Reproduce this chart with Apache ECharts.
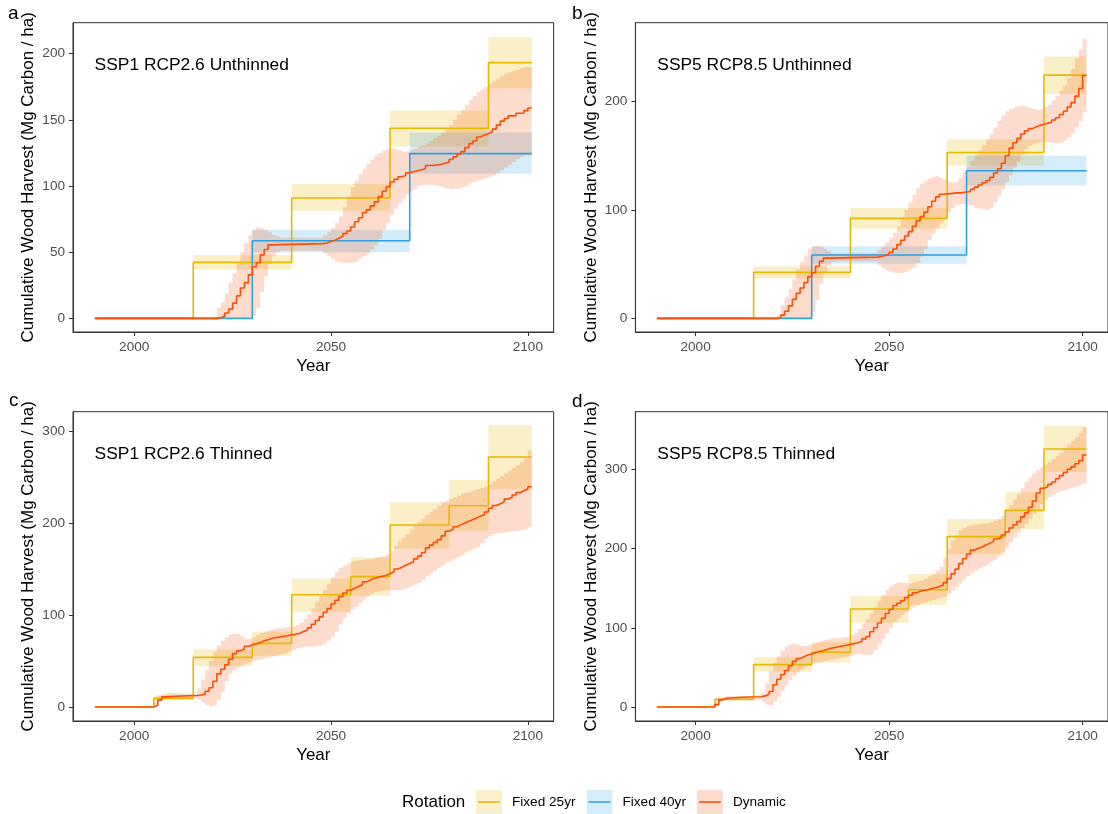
<!DOCTYPE html>
<html><head><meta charset="utf-8">
<script src="https://cdn.jsdelivr.net/npm/echarts@6/dist/echarts.min.js"></script>
<style>html,body{margin:0;padding:0;background:#fff}#chart{width:1108px;height:814px}</style>
</head><body><div id="chart"></div><script>
// ---------------- DATA ----------------
const seriesNames = ['Fixed 25yr', 'Fixed 40yr', 'Dynamic'];
const panelLabels = ['a', 'b', 'c', 'd'];
const panelTitles = ['SSP1 RCP2.6 Unthinned', 'SSP5 RCP8.5 Unthinned', 'SSP1 RCP2.6 Thinned', 'SSP5 RCP8.5 Thinned'];
const xTicks = [2000, 2050, 2100];
const yTicks_a = [0, 50, 100, 150, 200];
const yTicks_b = [0, 100, 200];
const yTicks_c = [0, 100, 200, 300];
const yTicks_d = [0, 100, 200, 300];

// Fixed 25yr step lines [year, value]
const fixed25_a = [[1990,0],[2015,42.3],[2040,91],[2065,143.6],[2090,193.2],[2101,193.2]];
const fixed25_b = [[1990,0],[2015,42.4],[2040,92.2],[2065,153],[2090,224.3],[2101,224.3]];
const fixed25_c = [[1990,0],[2005,9.4],[2015,54],[2030,69.2],[2040,122.1],[2055,141.7],[2065,197.8],[2080,218.8],[2090,271.7],[2101,271.7]];
const fixed25_d = [[1990,0],[2005,9.7],[2015,53.4],[2030,69],[2040,123.7],[2055,148],[2065,215],[2080,248.2],[2090,325.6],[2101,325.6]];
// Fixed 25yr bands [from, to, low, high]
const band25_a = [[2015,2040,37.2,47.8],[2040,2065,81.3,101.6],[2065,2090,129.8,157],[2090,2101,173.6,212.6]];
const band25_b = [[2015,2040,36.9,47.9],[2040,2065,82.6,101.7],[2065,2090,141,165.3],[2090,2101,207,241.5]];
const band25_c = [[2005,2015,7.6,13],[2015,2030,44.6,62.7],[2030,2040,55.8,81.9],[2040,2055,103.6,139.5],[2055,2065,121,162.7],[2065,2080,172.1,222.5],[2080,2090,191.7,246.7],[2090,2101,237,306.5]];
const band25_d = [[2005,2015,7.6,10.9],[2015,2030,44.6,62.7],[2030,2040,56,81.6],[2040,2055,106.4,140],[2055,2065,128.7,167.9],[2065,2080,192.7,237.3],[2080,2090,224.2,271],[2090,2101,296.6,355]];
// Fixed 40yr (unthinned panels only)
const fixed40_a = [[1990,0],[2030,58.6],[2070,124.5],[2101,124.5]];
const fixed40_b = [[1990,0],[2030,58.4],[2070,136.1],[2101,136.1]];
const band40_a = [[2030,2070,50,66.9],[2070,2101,109.2,140.4]];
const band40_b = [[2030,2070,50.4,66.4],[2070,2101,122.6,149.9]];

// Dynamic step lines [year, value]
const dynamic_a = [[1990,0],[2021,0.5],[2022,1.5],[2023,4],[2024,7],[2025,11.5],[2026,17],[2027,23],[2028,27],[2029,33],[2030,39],[2031,42],[2032,48],[2033,52],[2034,55.5],[2035,56.5],[2048,57],[2049,58],[2050,59],[2051,60.5],[2052,62],[2053,64],[2054,66],[2055,69],[2056,73],[2057,76],[2058,80],[2059,82],[2060,85],[2061,88],[2062,92],[2063,96],[2064,99.5],[2065,103],[2066,105],[2067,107],[2068,108],[2069,110],[2070,111.5],[2072,113],[2074,115.5],[2076,116.5],[2078,118],[2080,120],[2081,122],[2082,124],[2083,126],[2084,129],[2085,132],[2086,134],[2087,137],[2088,138.5],[2089,139.5],[2090,141],[2091,143],[2092,146],[2093,149],[2094,151],[2095,153],[2097,155],[2099,157],[2100,159],[2101,159]];
const dynamic_b = [[1990,0],[2021,0.5],[2022,3],[2023,6.5],[2024,11.5],[2025,17.5],[2026,23],[2027,28],[2028,33],[2029,38.5],[2030,42],[2031,48],[2032,52.5],[2033,55.5],[2034,56.5],[2047,57],[2048,58],[2049,59],[2050,61],[2051,64],[2052,68],[2053,72],[2054,76],[2055,80],[2056,85],[2057,90],[2058,94],[2059,98],[2060,103],[2061,108],[2062,112],[2063,114.5],[2064,115.5],[2067,116],[2069,117],[2071,119],[2072,121],[2073,123],[2074,125],[2075,127],[2076,130],[2077,134],[2078,138],[2079,143],[2080,150],[2081,157],[2082,162],[2083,166],[2084,170],[2085,173],[2086,175],[2087,176.5],[2088,178],[2089,179],[2090,180],[2091,181],[2092,183],[2093,185],[2094,188],[2095,191],[2096,195],[2097,199],[2098,205],[2099,212],[2100,224],[2101,224]];
const dynamic_c = [[1990,0],[2005,2],[2006,7.5],[2007,11],[2008,12],[2012,12.5],[2016,13],[2017,14],[2018,17],[2019,21],[2020,28],[2021,36],[2022,41],[2023,46],[2024,52],[2025,58],[2026,61],[2027,63],[2028,66],[2029,67.5],[2030,68.5],[2031,70],[2032,72],[2033,73],[2034,74.5],[2035,75.5],[2036,76],[2037,77],[2038,77.5],[2039,78.5],[2040,79],[2041,80],[2042,82],[2043,83.5],[2044,86],[2045,90],[2046,94],[2047,98],[2048,103],[2049,107],[2050,112],[2051,116],[2052,120],[2053,124],[2054,127],[2055,129],[2056,131],[2057,133],[2058,136],[2059,138],[2060,140],[2061,141],[2062,142],[2063,143],[2064,145],[2065,147],[2066,150],[2067,152],[2068,154],[2069,156],[2070,158],[2071,161],[2072,164],[2073,168],[2074,173],[2075,176],[2076,179],[2077,182],[2078,186],[2079,191],[2080,193],[2081,196],[2082,198],[2083,200],[2084,202],[2085,203.5],[2086,205.5],[2087,207.5],[2088,209],[2089,212],[2090,216],[2091,219],[2092,221],[2093,223],[2094,226],[2095,228],[2096,230.5],[2097,233],[2098,235],[2099,237],[2100,239.5],[2101,239.5]];
const dynamic_d = [[1990,0],[2005,3],[2006,9],[2007,11],[2008,12],[2011,12.5],[2014,13],[2017,14],[2018,16],[2019,19.5],[2020,28],[2021,35],[2022,41],[2023,46],[2024,52],[2025,57.5],[2026,61],[2027,63.5],[2028,65.5],[2029,67],[2030,68.5],[2031,70],[2032,71],[2033,72.5],[2034,74],[2035,75],[2036,76],[2037,77],[2038,78],[2039,79],[2040,80],[2041,81],[2042,83],[2043,86],[2044,89],[2045,95],[2046,100],[2047,106],[2048,112],[2049,118],[2050,123],[2051,128],[2052,131],[2053,134],[2054,138],[2055,141],[2056,144],[2057,146],[2058,147],[2059,148],[2060,149.5],[2061,150.5],[2062,152],[2063,154],[2064,157],[2065,162],[2066,168],[2067,174],[2068,181],[2069,187],[2070,193],[2071,198],[2072,200],[2073,202],[2074,204.5],[2075,206.5],[2076,209],[2077,212],[2078,214],[2079,217],[2080,221],[2081,226],[2082,230],[2083,234],[2084,240],[2085,245],[2086,252],[2087,260],[2088,270],[2089,276],[2090,278],[2091,281],[2092,284],[2093,288],[2094,292],[2095,296],[2096,300],[2097,303],[2098,307],[2099,311],[2100,318],[2101,318]];

// Dynamic uncertainty bands [year, low, high]
const dynBand_a = [[2021,0,8],[2022,0,12],[2023,0,19],[2024,0,27],[2025,0,34],[2026,0,42],[2027,0,50],[2028,0,57],[2029,0,63],[2030,2,67],[2031,8,69],[2032,20,68],[2033,32,67],[2034,41,65],[2035,47,63],[2036,50,62],[2037,51,61],[2048,49,63],[2049,47,65],[2050,45,68],[2051,43,72],[2052,42,77],[2053,42,84],[2054,42,92],[2055,42,99],[2056,43,104],[2057,45,109],[2058,47,113],[2059,49,117],[2060,52,120],[2061,55,123],[2062,60,125],[2063,67,127],[2064,72,128],[2065,78,128.5],[2066,83,128],[2067,87,127],[2068,90,126],[2069,94,126],[2070,96,127],[2071,98,128],[2072,100,130],[2073,100.5,131],[2074,101,132],[2075,101,134],[2076,100.5,136],[2077,100,138],[2078,99,140],[2079,98,143],[2080,97.5,146],[2081,98,150],[2082,98,154],[2083,99,157],[2084,100,161],[2085,102,165],[2086,103,168],[2087,104,171],[2088,105,173],[2089,106,175],[2090,107,177],[2091,108,179],[2092,110,181],[2093,112,183],[2094,114,185],[2095,116,186],[2096,118,187],[2097,120,188],[2098,122,189],[2099,123,190],[2101,123.5,190]];
const dynBand_b = [[2021,0,3],[2022,0,12],[2023,0,20],[2024,0,27],[2025,0,36],[2026,0,45],[2027,0,52],[2028,0,58],[2029,0,64],[2030,6,66],[2031,17,67],[2032,32,66],[2033,43,64],[2034,49,62],[2035,52,60],[2036,52.5,60],[2047,49,63],[2048,46,66],[2049,44,70],[2050,42.5,74],[2051,42,79],[2052,41.8,85],[2053,42,93],[2054,43,100],[2055,45,107],[2056,47,114],[2057,51,120],[2058,57,124],[2059,64,127],[2060,72,129],[2061,78,130.5],[2062,83,131],[2063,88,130],[2064,93,128],[2065,98,126],[2066,101.5,125],[2067,104,126],[2068,105,130],[2069,105.5,135],[2070,105,140],[2071,104,145],[2072,102,150],[2073,101,155],[2074,100.5,160],[2075,100,165],[2076,102,170],[2077,107,176],[2078,113,182],[2079,119,187],[2080,126,191],[2081,132,193],[2082,139,194.5],[2083,145,195.5],[2084,151,196],[2085,156,195.5],[2086,159,194],[2087,161,193],[2088,162,192.5],[2089,163,193],[2090,163,195],[2091,162.5,197],[2092,162,201],[2093,161.5,205],[2094,162,210],[2095,164,215],[2096,167,222],[2097,171,230],[2098,176,240],[2099,182,248],[2100,190,258],[2101,192,260]];
const dynBand_c = [[2005,1,5],[2006,6,12],[2007,9,14],[2008,10,15],[2016,8,20],[2017,5,30],[2018,2,40],[2019,0.5,50],[2020,2,60],[2021,8,67],[2022,16,72],[2023,28,76],[2024,36,79],[2025,40,80],[2026,43,79.5],[2027,45,77],[2028,47,74],[2029,48.5,74.5],[2030,50,76],[2031,51,78],[2032,52,80.5],[2033,53,82],[2034,54,83.5],[2035,55,84.5],[2036,56,85.5],[2037,57,86],[2038,58,86.5],[2039,60,87],[2040,62,87.5],[2041,63.5,89],[2042,64.5,92],[2043,65.5,96],[2044,66,101],[2045,66,107],[2046,66.5,114],[2047,67,121],[2048,69,127],[2049,72,134],[2050,76,141],[2051,82,147],[2052,90,151],[2053,97,154],[2054,102,156],[2055,106,158],[2056,109,159],[2057,113,159.5],[2058,117,160],[2059,120,160.5],[2060,123,161],[2061,125,162],[2062,126,163],[2063,127,164],[2064,127,166],[2065,127,170],[2066,127,175],[2067,127,180],[2068,128,184],[2069,129,188],[2070,131,193],[2071,133,197],[2072,135,201],[2073,138,205],[2074,142,209],[2075,145,212],[2076,148,215],[2077,151,219],[2078,154,222],[2079,157,224],[2080,159,226],[2081,161,228],[2082,163,230],[2083,165,232],[2084,168,233],[2085,170,234],[2086,172,235.5],[2087,174,237],[2088,178,238],[2089,183,239.5],[2090,186,242],[2091,188,245],[2092,189,248],[2093,189.5,251],[2094,190,254],[2095,190.5,257],[2096,191,260],[2097,191.5,263],[2098,192,266],[2099,193,270],[2100,196,279],[2101,198,281]];
const dynBand_d = [[2005,1,5],[2006,6,11],[2007,8.5,13],[2008,9.5,14],[2016,9,15],[2017,6,18],[2018,3,30],[2019,2.5,45],[2020,7,56],[2021,13,64],[2022,20,71],[2023,27,76],[2024,34,79],[2025,39,80],[2026,43.5,79],[2027,47,77],[2028,50,77],[2029,52.5,78.5],[2030,54,79.5],[2031,55.5,81],[2032,57,83],[2033,58,84.5],[2034,59,85.5],[2035,60,86.5],[2036,61,87],[2037,62,87.5],[2038,63,88],[2039,64,89],[2040,65.5,91],[2041,67,94],[2042,67.5,99],[2043,66,105],[2044,65.5,111],[2045,67,118],[2046,72,126],[2047,79,133],[2048,86,141],[2049,93,148],[2050,100,152],[2051,107,155],[2052,112,157],[2053,116,157],[2054,120,156.5],[2055,123,156],[2056,126,157],[2057,128.5,158.5],[2058,130.5,160],[2059,132,162],[2060,133.5,165],[2061,135,168],[2062,136.5,172],[2063,138,177],[2064,139.5,188],[2065,143,200],[2066,147,210],[2067,151,217],[2068,156,223],[2069,161,226],[2070,165,228],[2071,169,229.5],[2072,172,230],[2073,175,231],[2074,177.5,231.5],[2075,179.5,232],[2076,183,233],[2077,186,235],[2078,191,237],[2079,196,242],[2080,201,248],[2081,208,255],[2082,214,262],[2083,220,269],[2084,226,276],[2085,231,284],[2086,237,290],[2087,244,295],[2088,250,299],[2089,256,302],[2090,261,306],[2091,265,309],[2092,268,313],[2093,270.5,317],[2094,272.5,321],[2095,274,326],[2096,275.5,331],[2097,277,336],[2098,278.5,341],[2099,280,346],[2100,282,353],[2101,282.5,355]];

// ---------------- STYLE / LAYOUT ----------------
const FONT = '"Liberation Sans", Arial, Helvetica, sans-serif';
const COL25 = '#E7B800', COL40 = '#2E9FDF', COLDYN = '#FC4E07';
const FILL25 = 'rgba(231,184,0,0.22)', FILL40 = 'rgba(46,159,223,0.2)', FILLDYN = 'rgba(252,78,7,0.2)';
const X_MIN = 1984.45, X_MAX = 2106.55;

const panels = [
  {grid:{left:73, top:22.7, width:480.6, height:309.3}, ymin:-10.3, ymax:223.4, yTicks:yTicks_a, f25:fixed25_a, b25:band25_a, f40:fixed40_a, b40:band40_a, dyn:dynamic_a, db:dynBand_a},
  {grid:{left:635.4, top:22.7, width:481.7, height:309.3}, ymin:-12.6, ymax:272.7, yTicks:yTicks_b, f25:fixed25_b, b25:band25_b, f40:fixed40_b, b40:band40_b, dyn:dynamic_b, db:dynBand_b},
  {grid:{left:73, top:411.7, width:480.6, height:309.3}, ymin:-15.2, ymax:321, yTicks:yTicks_c, f25:fixed25_c, b25:band25_c, f40:null, b40:null, dyn:dynamic_c, db:dynBand_c},
  {grid:{left:635.4, top:411.7, width:481.7, height:309.3}, ymin:-17.7, ymax:372.7, yTicks:yTicks_d, f25:fixed25_d, b25:band25_d, f40:null, b40:null, dyn:dynamic_d, db:dynBand_d}
];

function rectBandSeries(name, data, fill, gi) {
  return {
    type: 'custom', name: name, xAxisIndex: gi, yAxisIndex: gi, silent: true, clip: true, z: 2,
    data: data, encode: {x: [0, 1], y: [2, 3]},
    renderItem: function (params, api) {
      const p0 = api.coord([api.value(0), api.value(3)]);
      const p1 = api.coord([api.value(1), api.value(2)]);
      return {type: 'rect', shape: {x: p0[0], y: p0[1], width: p1[0] - p0[0], height: p1[1] - p0[1]}, style: {fill: fill}};
    }
  };
}
function stepBandSeries(name, band, fill, gi) {
  return {
    type: 'custom', name: name, xAxisIndex: gi, yAxisIndex: gi, silent: true, clip: true, z: 2,
    data: band, encode: {x: 0, y: [1, 2]},
    renderItem: function (params, api) {
      if (params.dataIndex !== 0) return null;
      const pts = [];
      const n = band.length;
      for (let i = 0; i < n; i++) {
        const x0 = band[i][0], x1 = i + 1 < n ? band[i + 1][0] : band[i][0];
        pts.push(api.coord([x0, band[i][2]]));
        pts.push(api.coord([x1, band[i][2]]));
      }
      for (let i = n - 1; i >= 0; i--) {
        const x0 = band[i][0], x1 = i + 1 < n ? band[i + 1][0] : band[i][0];
        pts.push(api.coord([x1, band[i][1]]));
        pts.push(api.coord([x0, band[i][1]]));
      }
      return {type: 'polygon', shape: {points: pts}, style: {fill: fill}};
    }
  };
}
function stepLine(name, data, color, gi) {
  return {
    type: 'line', name: name, xAxisIndex: gi, yAxisIndex: gi, data: data, step: 'end',
    showSymbol: false, symbol: 'none', silent: true, clip: true, z: 3,
    lineStyle: {color: color, width: 1.6}, itemStyle: {color: color}
  };
}
function plainLabel(v) { return String(v); }

const grids = [], xAxes = [], yAxes = [], series = [];
panels.forEach(function (p, gi) {
  grids.push(Object.assign({show: true, borderColor: '#333333', borderWidth: 1, backgroundColor: '#fff'}, p.grid));
  xAxes.push({
    type: 'value', gridIndex: gi, min: X_MIN, max: X_MAX, position: 'bottom',
    axisLine: {show: true, onZero: false, lineStyle: {color: '#333333', width: 1}}, splitLine: {show: false},
    axisTick: {show: true, inside: false, length: 4, customValues: xTicks, lineStyle: {color: '#333333', width: 1}},
    axisLabel: {customValues: xTicks, formatter: plainLabel, color: '#4D4D4D', fontSize: 13.6, margin: 8, fontFamily: FONT},
    name: 'Year', nameLocation: 'middle', nameGap: 26,
    nameTextStyle: {color: '#000', fontSize: 17, fontFamily: FONT}
  });
  yAxes.push({
    type: 'value', gridIndex: gi, min: p.ymin, max: p.ymax, position: 'left',
    axisLine: {show: true, onZero: false, lineStyle: {color: '#333333', width: 1}}, splitLine: {show: false},
    axisTick: {show: true, inside: false, length: 4, customValues: p.yTicks, lineStyle: {color: '#333333', width: 1}},
    axisLabel: {customValues: p.yTicks, formatter: plainLabel, color: '#4D4D4D', fontSize: 13.6, margin: 8, fontFamily: FONT},
    name: 'Cumulative Wood Harvest (Mg Carbon / ha)', nameLocation: 'middle', nameGap: 36, nameRotate: 90,
    nameTextStyle: {color: '#000', fontSize: 17, fontFamily: FONT}
  });
  series.push(rectBandSeries('Fixed 25yr band', p.b25, FILL25, gi));
  if (p.b40) series.push(rectBandSeries('Fixed 40yr band', p.b40, FILL40, gi));
  series.push(stepBandSeries('Dynamic band', p.db, FILLDYN, gi));
  series.push(stepLine(seriesNames[0], p.f25, COL25, gi));
  if (p.f40) series.push(stepLine(seriesNames[1], p.f40, COL40, gi));
  series.push(stepLine(seriesNames[2], p.dyn, COLDYN, gi));
});

function keyIcon(fill, stroke) {
  const svg = "<svg xmlns='http://www.w3.org/2000/svg' width='31' height='24' viewBox='0 0 31 24' preserveAspectRatio='none'>" +
    "<rect x='0' y='0' width='26' height='24' fill='" + fill + "'/>" +
    "<line x1='2' y1='12' x2='24' y2='12' stroke='" + stroke + "' stroke-width='1.6'/></svg>";
  return 'image://data:image/svg+xml;charset=utf-8,' + encodeURIComponent(svg);
}

const labelPos = [[8, 14], [572, 14], [9, 401], [572, 402]];
const titlePos = [[94.6, 65], [657.3, 65], [94.6, 454], [657.3, 454]];
const graphics = [];
panelLabels.forEach(function (t, i) {
  graphics.push({type: 'text', x: labelPos[i][0], y: labelPos[i][1], z: 100,
    style: {text: t, fontSize: 19, fontFamily: FONT, fill: '#000', align: 'left', verticalAlign: 'middle'}});
});
panelTitles.forEach(function (t, i) {
  graphics.push({type: 'text', x: titlePos[i][0], y: titlePos[i][1], z: 100,
    style: {text: t, fontSize: 17.4, fontFamily: FONT, fill: '#000', align: 'left', verticalAlign: 'middle'}});
});
graphics.push({type: 'text', x: 402, y: 802, z: 100,
  style: {text: 'Rotation', fontSize: 17, fontFamily: FONT, fill: '#000', align: 'left', verticalAlign: 'middle'}});

const option = {
  animation: false,
  backgroundColor: '#ffffff',
  grid: grids, xAxis: xAxes, yAxis: yAxes, series: series,
  legend: {
    left: 476, top: 790, padding: 0, orient: 'horizontal', itemWidth: 31, itemHeight: 24, itemGap: 11,
    selectedMode: false,
    textStyle: {fontSize: 13.6, fontFamily: FONT, color: '#000'},
    data: [
      {name: seriesNames[0], icon: keyIcon('#FAF1CC', COL25)},
      {name: seriesNames[1], icon: keyIcon('#D5ECF9', COL40)},
      {name: seriesNames[2], icon: keyIcon('#FEDCCD', COLDYN)}
    ]
  },
  graphic: graphics
};
const chart = echarts.init(document.getElementById('chart'), null, {renderer: 'canvas'});
chart.setOption(option);
</script></body></html>
